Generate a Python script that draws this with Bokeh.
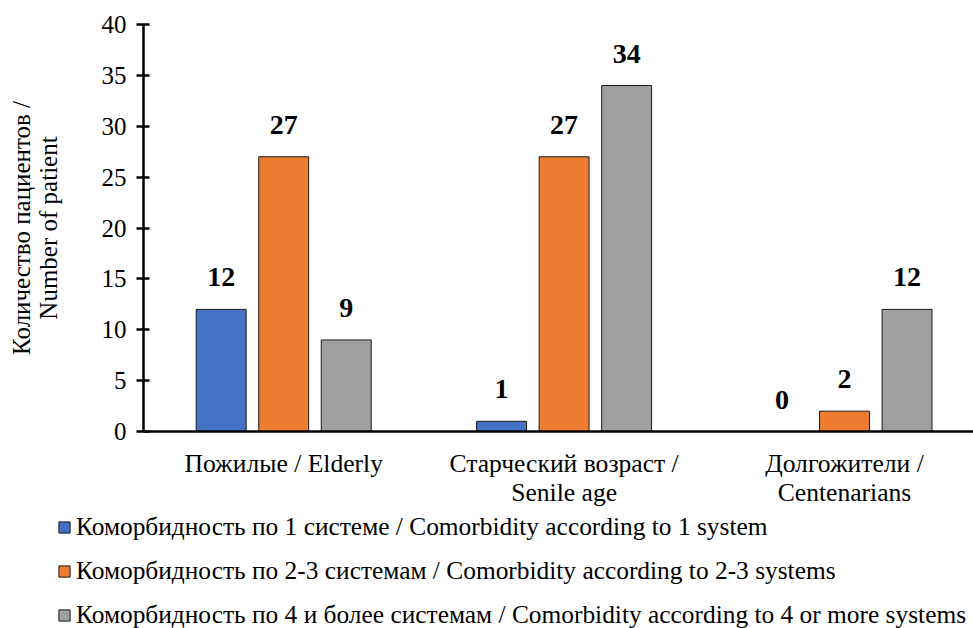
from bokeh.plotting import figure
from bokeh.layouts import column
from bokeh.models import ColumnDataSource, FixedTicker, Legend, LegendItem
from bokeh.transform import dodge
from bokeh.core.properties import value
from bokeh.embed import file_html
from bokeh.resources import INLINE

categories = ["Пожилые / Elderly", "Старческий возраст /\nSenile age", "Долгожители /\nCentenarians"]
series_names = [
    "Коморбидность по 1 системе / Comorbidity according to 1 system",
    "Коморбидность по 2-3 системам / Comorbidity according to 2-3 systems",
    "Коморбидность по 4 и более системам / Comorbidity according to 4 or more systems",
]
s1 = [12, 1, 0]
s2 = [27, 27, 2]
s3 = [9, 34, 12]
colors = ["#4472C4", "#ED7D31", "#9FA1A1"]
y_ticks = [0, 5, 10, 15, 20, 25, 30, 35, 40]

FONT = "Liberation Serif"

xs = [i + 0.5 for i in range(len(categories))]
src = ColumnDataSource(dict(x=xs, s1=s1, s2=s2, s3=s3,
                            l1=[str(v) for v in s1], l2=[str(v) for v in s2], l3=[str(v) for v in s3]))

p = figure(frame_width=830, frame_height=407, x_range=(0, 2.96), y_range=(0, 40),
           output_backend="svg", toolbar_location=None,
           min_border_top=24, min_border_right=0, min_border_left=143, min_border_bottom=80)

p.outline_line_color = None
p.xgrid.visible = False
p.ygrid.visible = False

offsets = [-0.223, 0.0, 0.223]
for key, lab, off, col in zip(["s1", "s2", "s3"], ["l1", "l2", "l3"], offsets, colors):
    p.vbar(x=dodge("x", off, range=p.x_range), top=key, width=0.178, source=src,
           fill_color=col, line_color="#1a1a1a", line_width=1)
    p.text(x=dodge("x", off, range=p.x_range), y=key, text=lab, source=src,
           text_align="center", text_baseline="middle", y_offset=-32,
           text_font=value(FONT), text_font_size="28px", text_font_style="bold",
           text_color="black")

# y axis
ya = p.yaxis[0]
ya.ticker = FixedTicker(ticks=y_ticks)
ya.minor_tick_line_color = None
ya.major_tick_in = 6
ya.major_tick_out = 7
ya.major_tick_line_width = 2.5
ya.axis_line_width = 2.5
ya.major_label_text_font = FONT
ya.major_label_text_font_size = "25px"
ya.major_label_text_color = "black"
ya.major_label_standoff = 10
ya.axis_label = "Количество пациентов /\nNumber of patient"
ya.axis_label_text_font = FONT
ya.axis_label_text_font_size = "25px"
ya.axis_label_text_font_style = "normal"
ya.axis_label_text_color = "black"
ya.axis_label_text_line_height = 1.0
ya.axis_label_standoff = 37

# x axis
xa = p.xaxis[0]
xa.ticker = FixedTicker(ticks=xs)
xa.major_label_overrides = {x: c for x, c in zip(xs, categories)}
xa.major_tick_line_color = None
xa.minor_tick_line_color = None
xa.axis_line_width = 2.5
xa.major_label_text_font = FONT
xa.major_label_text_font_size = "25.6px"
xa.major_label_text_color = "black"
xa.major_label_text_line_height = 1.0
xa.major_label_standoff = 11

# legend figure below the chart
p2 = figure(frame_width=973, frame_height=117, x_range=(0, 1), y_range=(0, 1),
            output_backend="svg", toolbar_location=None,
            min_border=0, min_border_left=0, min_border_right=0, min_border_top=0, min_border_bottom=0)
p2.xaxis.visible = False
p2.yaxis.visible = False
p2.grid.visible = False
p2.outline_line_color = None
dummy = []
for col in colors:
    dummy.append(p2.vbar(x=[-5], top=[-5], width=0.1, fill_color=col, line_color="#1a1a1a", line_width=1))

legend = Legend(items=[LegendItem(label=n, renderers=[r]) for n, r in zip(series_names, dummy)],
                orientation="vertical", location=(57, -1))
legend.label_text_font = FONT
legend.label_text_font_size = "25.4px"
legend.label_text_color = "black"
legend.glyph_width = 14
legend.glyph_height = 14
legend.label_standoff = 5
legend.spacing = 15
legend.padding = 0
legend.margin = 0
legend.border_line_color = None
legend.background_fill_alpha = 0
legend.label_height = 24
p2.add_layout(legend, "center")

layout = column(p, p2, spacing=0)
open("out.html", "w").write(file_html(layout, INLINE))
